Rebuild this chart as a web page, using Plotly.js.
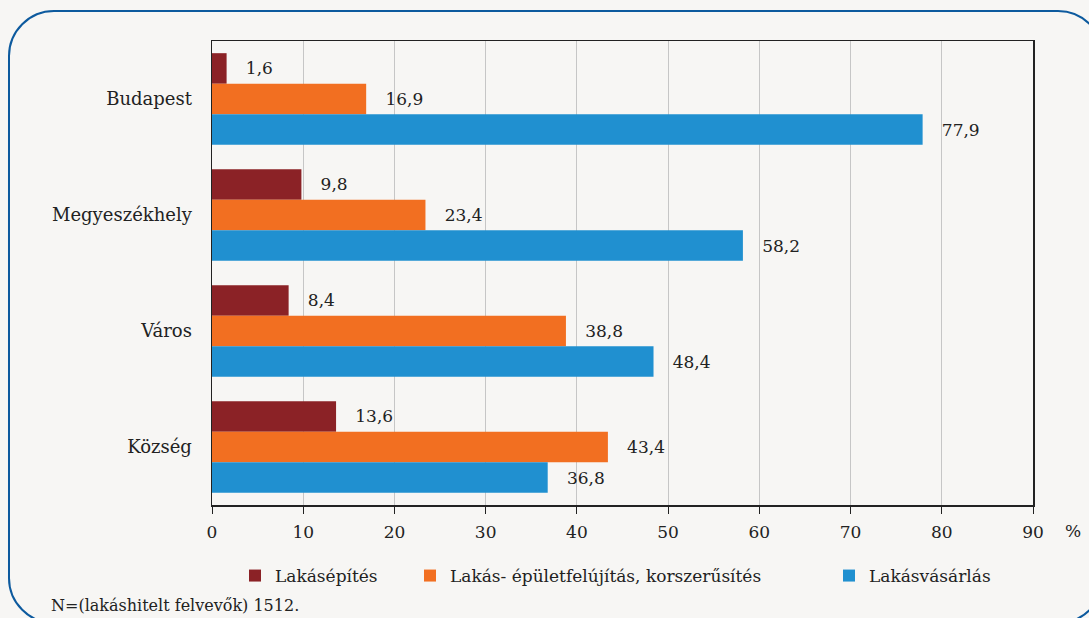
<!DOCTYPE html>
<html>
<head>
<meta charset="utf-8">
<script src="https://cdn.plot.ly/plotly-3.0.1.min.js"></script>
<style>html,body{margin:0;padding:0;background:#F7F6F4;}#chart{width:1089px;height:618px;}</style>
</head>
<body>
<div id="chart"></div>
<script>
// ---- data ----
const categories = ["Budapest", "Megyeszékhely", "Város", "Község"];
const seriesNames = ["Lakásépítés", "Lakás- épületfelújítás, korszerűsítés", "Lakásvásárlás"];
const lakasepites = [1.6, 9.8, 8.4, 13.6];
const felujitas = [16.9, 23.4, 38.8, 43.4];
const vasarlas = [77.9, 58.2, 48.4, 36.8];
const xTickVals = [0, 10, 20, 30, 40, 50, 60, 70, 80, 90];
const footnote = "N=(lakáshitelt felvevők) 1512.";
const unitLabel = "%";

// ---- styling ----
const colors = ["#8B2226", "#F26F21", "#2090D0"];
const FONT = "DejaVu Serif";
const TXT = "#222222";
const W = 1089, H = 618;
const M = {l: 212, r: 56, t: 41, b: 113};
const pw = W - M.l - M.r, ph = H - M.t - M.b;
const PX = px => (px - M.l) / pw;
const PY = py => (H - M.b - py) / ph;

const seriesVals = [lakasepites, felujitas, vasarlas];
const legendIds = ["legend", "legend2", "legend3"];
const traces = seriesVals.map((vals, i) => ({
  type: "bar",
  orientation: "h",
  name: seriesNames[i],
  x: vals,
  y: categories,
  marker: {color: colors[i], line: {width: 0}},
  texttemplate: "\u00a0\u00a0\u00a0%{x:.1f}",
  textposition: "outside",
  constraintext: "none",
  cliponaxis: false,
  textfont: {family: FONT, size: 17, color: TXT},
  hoverinfo: "skip",
  legend: legendIds[i]
}));

// rounded frame
const L = 9, T = 11, R = 1103, B = 623, rad = 45, k = 0.552 * rad;
const framePath =
  `M${PX(L)},${PY(T + rad)} C${PX(L)},${PY(T + rad - k)} ${PX(L + rad - k)},${PY(T)} ${PX(L + rad)},${PY(T)} ` +
  `L${PX(R - rad)},${PY(T)} C${PX(R - rad + k)},${PY(T)} ${PX(R)},${PY(T + rad - k)} ${PX(R)},${PY(T + rad)} ` +
  `L${PX(R)},${PY(B - rad)} C${PX(R)},${PY(B - rad + k)} ${PX(R - rad + k)},${PY(B)} ${PX(R - rad)},${PY(B)} ` +
  `L${PX(L + rad)},${PY(B)} C${PX(L + rad - k)},${PY(B)} ${PX(L)},${PY(B - rad + k)} ${PX(L)},${PY(B - rad)} Z`;

const legendBase = {
  orientation: "h",
  yanchor: "middle",
  xanchor: "left",
  y: PY(576),
  bgcolor: "rgba(0,0,0,0)",
  borderwidth: 0,
  font: {family: FONT, size: 17, color: TXT},
  itemclick: false, itemdoubleclick: false
};

const layout = {
  width: W, height: H,
  margin: M,
  paper_bgcolor: "#F7F6F4",
  plot_bgcolor: "#F7F6F4",
  separators: ", ",
  font: {family: FONT, size: 17, color: TXT},
  barmode: "group",
  bargap: 0.21,
  bargroupgap: 0,
  xaxis: {
    range: [0, 90],
    tickvals: xTickVals,
    ticktext: xTickVals.map(String),
    showgrid: true,
    gridcolor: "#C6C6C6",
    gridwidth: 1,
    zeroline: false,
    showline: true,
    linecolor: "#222",
    linewidth: 1.5,
    mirror: true,
    ticks: "outside",
    ticklen: 7,
    tickcolor: "#222",
    ticklabelstandoff: 4,
    tickfont: {family: FONT, size: 17, color: TXT},
    fixedrange: true
  },
  yaxis: {
    autorange: "reversed",
    showgrid: false,
    zeroline: false,
    showline: true,
    linecolor: "#222",
    linewidth: 1.5,
    mirror: true,
    ticks: "",
    ticklabelstandoff: 15,
    tickfont: {family: FONT, size: 18, color: TXT},
    fixedrange: true
  },
  showlegend: true,
  legend: Object.assign({}, legendBase, {x: PX(235)}),
  legend2: Object.assign({}, legendBase, {x: PX(410)}),
  legend3: Object.assign({}, legendBase, {x: PX(829)}),
  annotations: [
    {text: unitLabel, xref: "paper", yref: "paper", x: PX(1073), y: PY(531),
     xanchor: "center", yanchor: "middle", showarrow: false,
     font: {family: FONT, size: 17, color: TXT}},
    {text: footnote, xref: "paper", yref: "paper", x: PX(49), y: PY(605),
     xanchor: "left", yanchor: "middle", showarrow: false,
     font: {family: FONT, size: 16, color: TXT}}
  ],
  shapes: [
    {type: "path", xref: "paper", yref: "paper", path: framePath,
     line: {color: "#0D5A9E", width: 2}, fillcolor: "rgba(0,0,0,0)", layer: "below"}
  ]
};

Plotly.newPlot("chart", traces, layout, {displayModeBar: false, staticPlot: true});
</script>
</body>
</html>
